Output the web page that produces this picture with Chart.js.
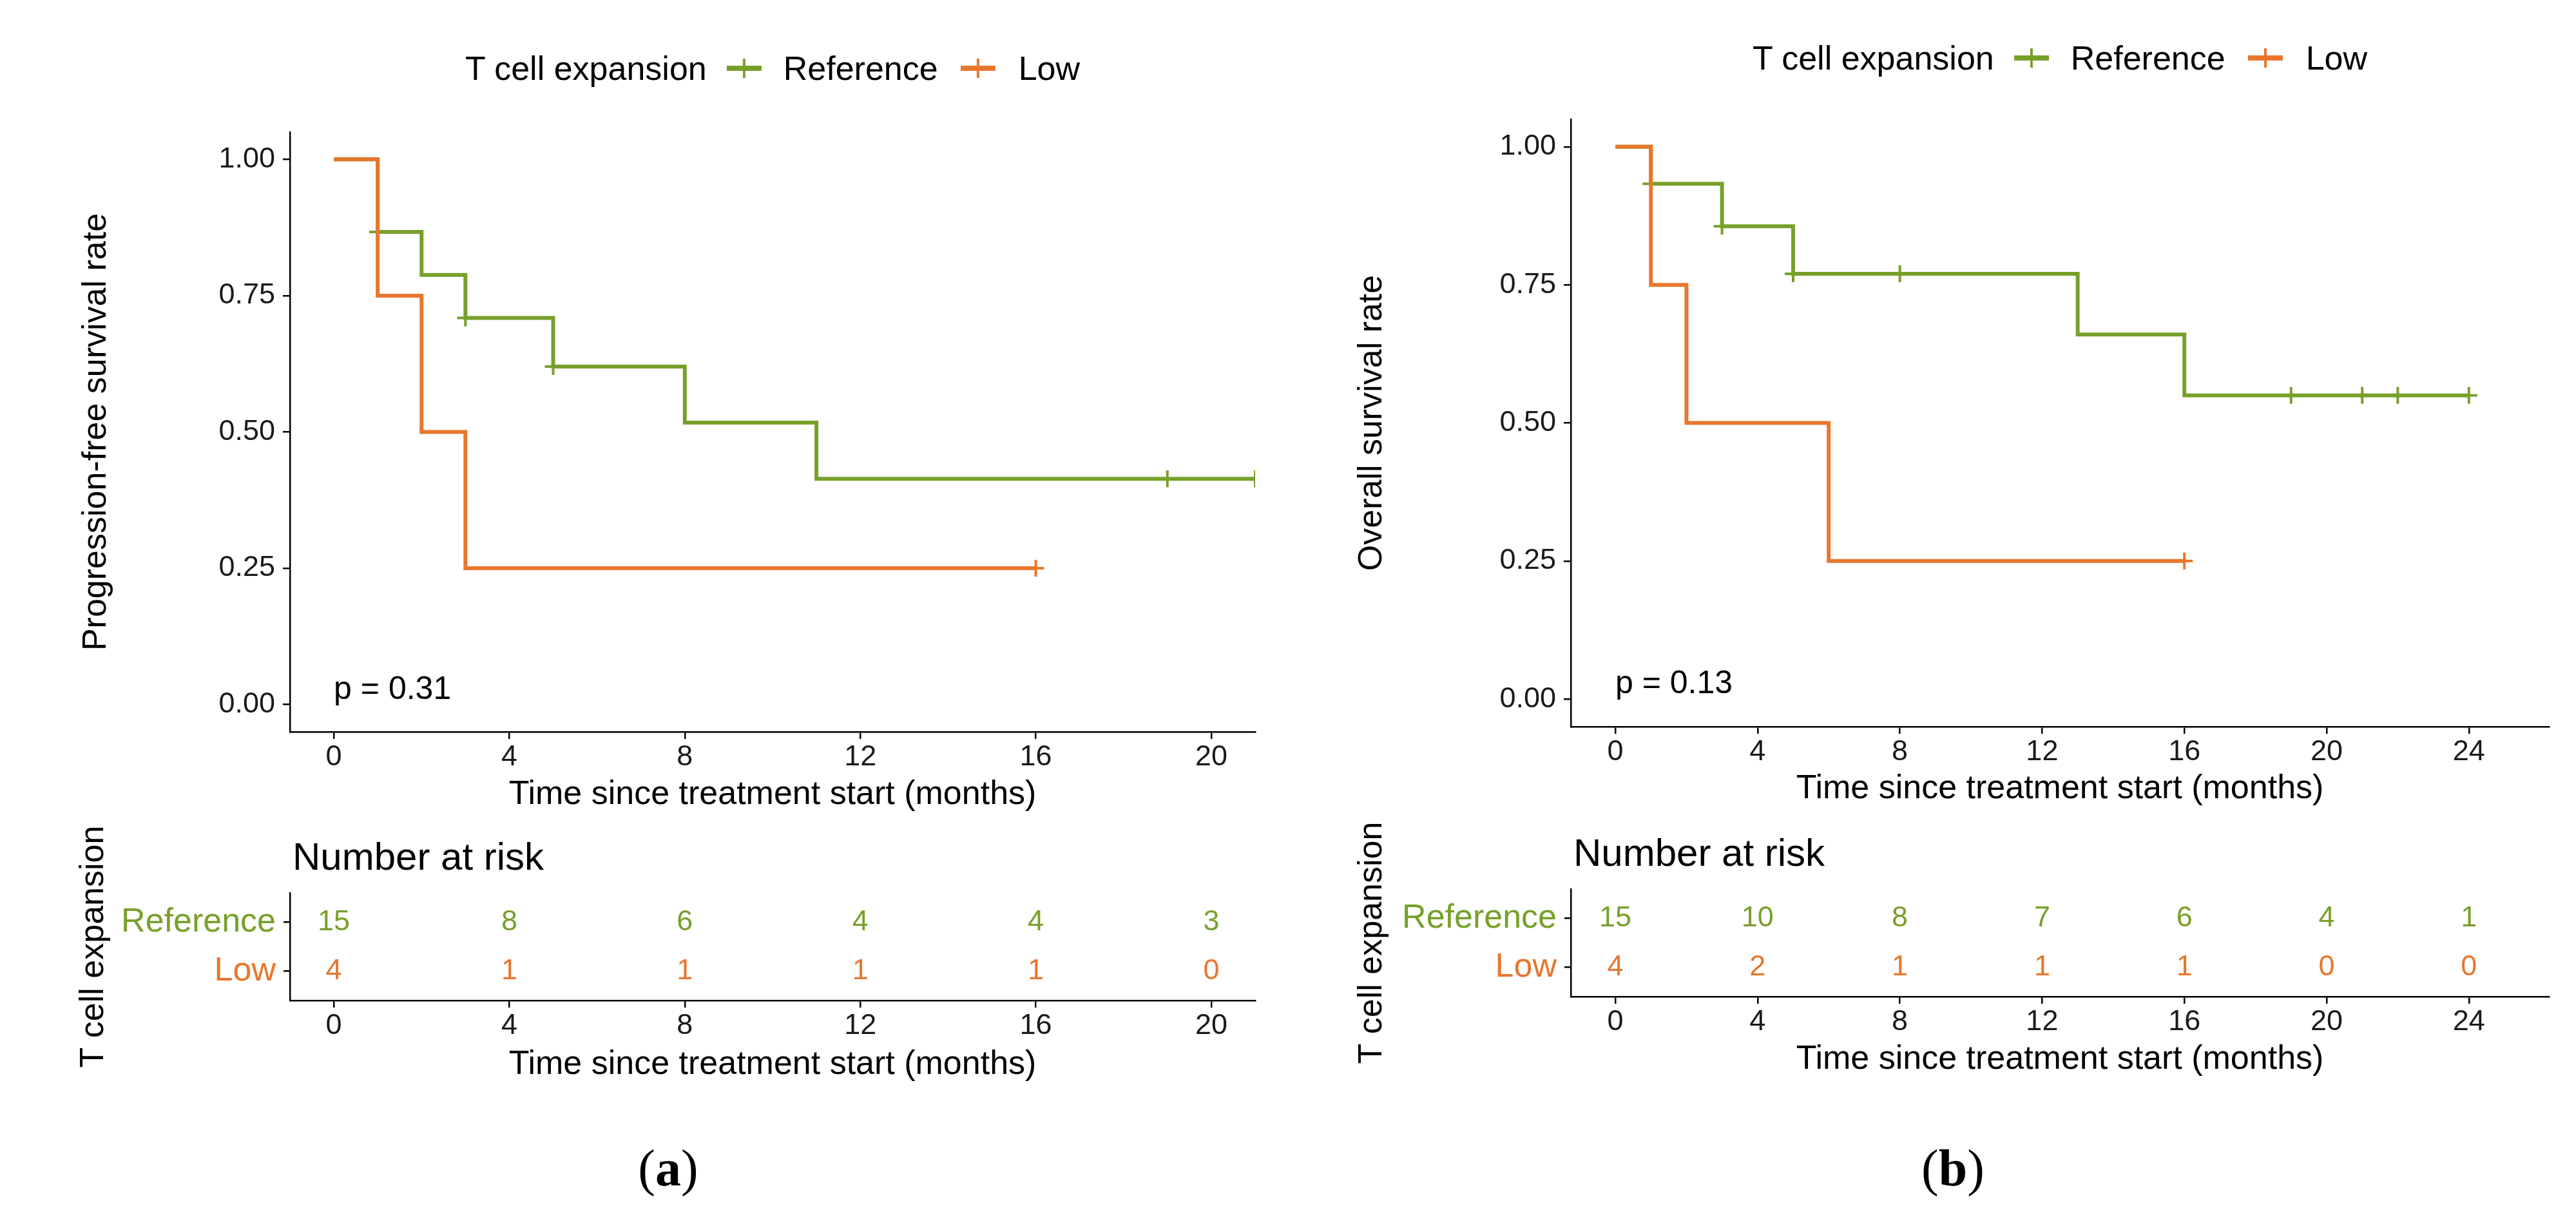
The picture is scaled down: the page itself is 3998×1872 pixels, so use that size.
<!DOCTYPE html>
<html>
<head>
<meta charset="utf-8">
<script src="https://cdn.jsdelivr.net/npm/chart.js@4.4.0/dist/chart.umd.min.js"></script>
<style>
html,body{margin:0;padding:0;background:#fff;}
body{width:3998px;height:1872px;position:relative;overflow:hidden;font-family:"Liberation Sans",Arial,sans-serif;}
.legend{position:absolute;display:flex;align-items:center;font-size:52px;line-height:1;color:#000;white-space:nowrap;transform:translate(-50%,-50%);}
.legend svg{display:block;}
.cap{position:absolute;font-family:"Liberation Serif","Times New Roman",serif;font-size:80px;line-height:1;color:#000;transform:translate(-50%,-50%);}
</style>
</head>
<body>
<div class="legend" id="legA" style="left:1199px;top:106px"></div>
<div class="legend" id="legB" style="left:3197px;top:90px"></div>
<div class="cap" style="left:1037px;top:1813px">(<b>a</b>)</div>
<div class="cap" style="left:3031px;top:1813px">(<b>b</b>)</div>
<script>
// ---------- data ----------
const GREEN = '#77a02a';
const ORANGE = '#e8762d';
const groupTitle = 'T cell expansion';
const groups = ['Reference', 'Low'];

// Panel (a): progression-free survival
const pfsRefTime   = [0, 1, 2, 3, 5, 8, 11, 21];
const pfsRefSurv   = [1.000, 0.867, 0.788, 0.709, 0.620, 0.517, 0.414, 0.414];
const pfsRefCensor = [1, 3, 5, 19, 21];
const pfsLowTime   = [0, 1, 2, 3, 16];
const pfsLowSurv   = [1.00, 0.75, 0.50, 0.25, 0.25];
const pfsLowCensor = [16];
const pfsPValue    = 'p = 0.31';
const pfsXTicks    = [0, 4, 8, 12, 16, 20];
const pfsRiskRef   = [15, 8, 6, 4, 4, 3];
const pfsRiskLow   = [4, 1, 1, 1, 1, 0];

// Panel (b): overall survival
const osRefTime   = [0, 1, 3, 5, 13, 16, 24];
const osRefSurv   = [1.000, 0.933, 0.856, 0.770, 0.660, 0.550, 0.550];
const osRefCensor = [1, 3, 5, 8, 19, 21, 22, 24];
const osLowTime   = [0, 1, 2, 6, 16];
const osLowSurv   = [1.00, 0.75, 0.50, 0.25, 0.25];
const osLowCensor = [16];
const osPValue    = 'p = 0.13';
const osXTicks    = [0, 4, 8, 12, 16, 20, 24];
const osRiskRef   = [15, 10, 8, 7, 6, 4, 1];
const osRiskLow   = [4, 2, 1, 1, 1, 0, 0];

const yTicks      = [0, 0.25, 0.5, 0.75, 1];
const yTickLabels = ['0.00', '0.25', '0.50', '0.75', '1.00'];
const xTitle      = 'Time since treatment start (months)';

// ---------- helpers ----------
const FONT = "'Liberation Sans', Arial, sans-serif";
function stepAt(times, vals, t) {
  let v = vals[0];
  for (let i = 0; i < times.length; i++) if (times[i] <= t) v = vals[i];
  return v;
}
function makeCanvas(left, top, w, h) {
  const c = document.createElement('canvas');
  c.width = w; c.height = h;
  c.style.cssText = `position:absolute;left:${left}px;top:${top}px;width:${w}px;height:${h}px;`;
  document.body.appendChild(c);
  return c;
}
function keySvg(color) {
  return `<svg width="54" height="32" viewBox="0 0 54 32"><line x1="0" y1="16" x2="54" y2="16" stroke="${color}" stroke-width="8"/><line x1="27" y1="1" x2="27" y2="31" stroke="${color}" stroke-width="4"/></svg>`;
}
function buildLegend(id) {
  document.getElementById(id).innerHTML =
    `<span>${groupTitle}</span><span style="margin-left:31px">${keySvg(GREEN)}</span>` +
    `<span style="margin-left:34px">${groups[0]}</span><span style="margin-left:35px">${keySvg(ORANGE)}</span>` +
    `<span style="margin-left:36px">${groups[1]}</span>`;
}
buildLegend('legA');
buildLegend('legB');

function xScale(o, withTitle) {
  return {
    type: 'linear', min: o.xmin, max: o.xmax,
    afterBuildTicks: s => { s.ticks = o.xticks.map(v => ({value: v})); },
    afterFit: s => { s.height = o.xh; },
    grid: {display: true, drawOnChartArea: false, drawTicks: true, tickLength: 11, color: '#000', lineWidth: 2.5},
    border: {display: true, color: '#000', width: 2.5},
    ticks: {font: {family: FONT, size: 45, lineHeight: 1}, color: '#1a1a1a', padding: 6,
            maxRotation: 0, autoSkip: false, callback: (v, i) => String(o.xticks[i])},
    title: {display: true, text: xTitle, font: {family: FONT, size: 52, lineHeight: 1}, color: '#000', padding: 0}
  };
}

const textPlugin = {
  id: 'textPlugin',
  afterDatasetsDraw(chart) {
    const o = chart.options.plugins.textPlugin;
    if (!o) return;
    const ctx = chart.ctx;
    ctx.save();
    if (o.pvalue) {
      ctx.font = `50px ${FONT}`;
      ctx.fillStyle = '#000';
      ctx.textAlign = 'left';
      ctx.textBaseline = 'middle';
      ctx.fillText(o.pvalue, chart.scales.x.getPixelForValue(0), chart.scales.y.getPixelForValue(0.027));
    }
    if (o.counts) {
      ctx.font = `45px ${FONT}`;
      ctx.textAlign = 'center';
      ctx.textBaseline = 'middle';
      o.counts.forEach((arr, di) => {
        const meta = chart.getDatasetMeta(di);
        ctx.fillStyle = o.colors[di];
        meta.data.forEach((pt, j) => ctx.fillText(String(arr[j]), pt.x, pt.y));
      });
    }
    if (o.header) {
      ctx.font = `60px ${FONT}`;
      ctx.fillStyle = '#000';
      ctx.textAlign = 'left';
      ctx.textBaseline = 'middle';
      ctx.fillText(o.header, chart.chartArea.left + 4, chart.chartArea.top - 53);
    }
    ctx.restore();
  }
};

function survChart(o) {
  const c = makeCanvas(o.left, o.top, o.w, o.h);
  const pts = (T, S) => T.map((t, i) => ({x: t, y: S[i]}));
  const cens = (C, T, S) => C.map(t => ({x: t, y: stepAt(T, S, t)}));
  new Chart(c, {
    type: 'line',
    data: {
      datasets: [
        {label: groups[1], data: pts(o.lowT, o.lowS), stepped: true, borderColor: ORANGE, borderWidth: 6,
         pointRadius: 0, fill: false, order: 0, borderCapStyle: 'butt', borderJoinStyle: 'miter'},
        {label: groups[1] + ' censored', data: cens(o.lowC, o.lowT, o.lowS), showLine: false, pointStyle: 'cross',
         pointRadius: 13, pointBorderWidth: 4, pointBorderColor: ORANGE, pointBackgroundColor: ORANGE, order: 0},
        {label: groups[0], data: pts(o.refT, o.refS), stepped: true, borderColor: GREEN, borderWidth: 6,
         pointRadius: 0, fill: false, order: 1, borderCapStyle: 'butt', borderJoinStyle: 'miter'},
        {label: groups[0] + ' censored', data: cens(o.refC, o.refT, o.refS), showLine: false, pointStyle: 'cross',
         pointRadius: 13, pointBorderWidth: 4, pointBorderColor: GREEN, pointBackgroundColor: GREEN, order: 1}
      ]
    },
    options: {
      responsive: false, devicePixelRatio: 1, animation: false,
      layout: {padding: {left: o.pl, right: 20, top: o.pt, bottom: 10}},
      plugins: {legend: {display: false}, tooltip: {enabled: false}, textPlugin: {pvalue: o.pvalue}},
      scales: {
        x: xScale(o),
        y: {
          type: 'linear', min: -0.05, max: 1.05,
          afterBuildTicks: s => { s.ticks = yTicks.map(v => ({value: v})); },
          afterFit: s => { s.width = o.yw; },
          grid: {display: true, drawOnChartArea: false, drawTicks: true, tickLength: 11, color: '#000', lineWidth: 2.5},
          border: {display: true, color: '#000', width: 2.5},
          ticks: {font: {family: FONT, size: 45, lineHeight: 1}, color: '#1a1a1a', padding: 12,
                  callback: (v, i) => yTickLabels[i]},
          title: {display: true, text: o.ytitle, font: {family: FONT, size: 52, lineHeight: 1}, color: '#000', padding: 0}
        }
      }
    },
    plugins: [textPlugin]
  });
}

function riskChart(o) {
  const c = makeCanvas(o.left, o.top, o.w, o.h);
  new Chart(c, {
    type: 'line',
    data: {
      datasets: [
        {label: groups[0], data: o.xticks.map(t => ({x: t, y: 2})), showLine: false, pointRadius: 0},
        {label: groups[1], data: o.xticks.map(t => ({x: t, y: 1})), showLine: false, pointRadius: 0}
      ]
    },
    options: {
      responsive: false, devicePixelRatio: 1, animation: false,
      layout: {padding: {left: o.pl, right: 20, top: o.pt, bottom: 10}},
      plugins: {legend: {display: false}, tooltip: {enabled: false},
                textPlugin: {counts: [o.ref, o.low], colors: [GREEN, ORANGE], header: 'Number at risk'}},
      scales: {
        x: xScale(o),
        y: {
          type: 'linear', min: 0.4, max: 2.6,
          afterBuildTicks: s => { s.ticks = [1, 2].map(v => ({value: v})); },
          afterFit: s => { s.width = o.yw; },
          grid: {display: true, drawOnChartArea: false, drawTicks: true, tickLength: 10, color: '#000', lineWidth: 2.5},
          border: {display: true, color: '#000', width: 2.5},
          ticks: {font: {family: FONT, size: 52, lineHeight: 1}, padding: 12,
                  color: ctx => (ctx.tick && ctx.tick.value === 2) ? GREEN : ORANGE,
                  callback: v => v === 2 ? groups[0] : groups[1]},
          title: {display: true, text: groupTitle, font: {family: FONT, size: 52, lineHeight: 1}, color: '#000', padding: 0}
        }
      }
    },
    plugins: [textPlugin]
  });
}

// Panel (a)
survChart({left: 0, top: 140, w: 1968, h: 1130, pl: 124, yw: 326, pt: 65, xh: 124,
  xmin: -1, xmax: 21, xticks: pfsXTicks, ytitle: 'Progression-free survival rate', pvalue: pfsPValue,
  refT: pfsRefTime, refS: pfsRefSurv, refC: pfsRefCensor, lowT: pfsLowTime, lowS: pfsLowSurv, lowC: pfsLowCensor});
riskChart({left: 0, top: 1270, w: 1968, h: 419, pl: 120, yw: 330, pt: 116, xh: 126,
  xmin: -1, xmax: 21, xticks: pfsXTicks, ref: pfsRiskRef, low: pfsRiskLow});

// Panel (b)
survChart({left: 1990, top: 130, w: 1986, h: 1131, pl: 114, yw: 334, pt: 55, xh: 123,
  xmin: -1.25, xmax: 26.25, xticks: osXTicks, ytitle: 'Overall survival rate', pvalue: osPValue,
  refT: osRefTime, refS: osRefSurv, refC: osRefCensor, lowT: osLowTime, lowS: osLowSurv, lowC: osLowCensor});
riskChart({left: 1990, top: 1270, w: 1986, h: 411, pl: 114, yw: 334, pt: 110, xh: 124,
  xmin: -1.25, xmax: 26.25, xticks: osXTicks, ref: osRiskRef, low: osRiskLow});
</script>
</body>
</html>
